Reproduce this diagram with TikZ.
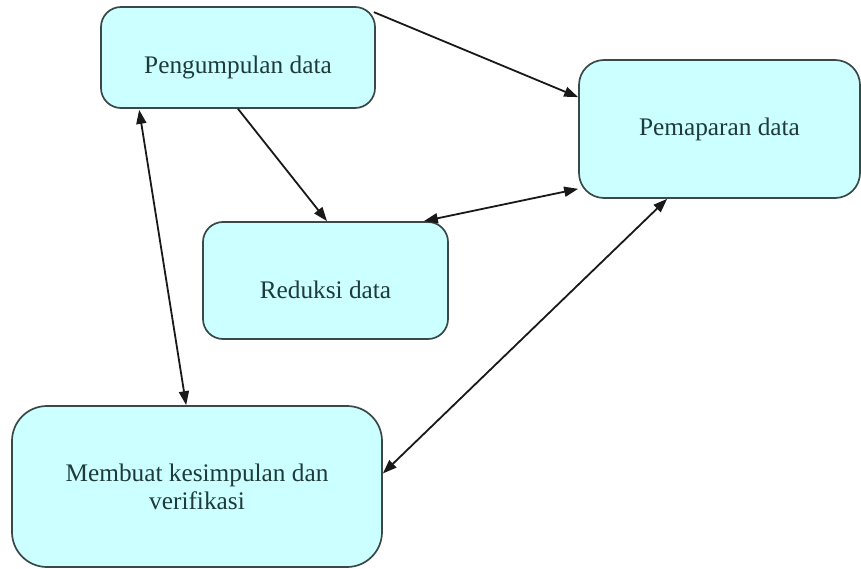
\documentclass[tikz,border=0pt]{standalone}
\usepackage{fontspec}
\setmainfont{Liberation Serif}
\usetikzlibrary{arrows.meta,calc}
\definecolor{boxfill}{HTML}{CCFFFF}
\definecolor{boxline}{HTML}{3A4848}
\definecolor{boxtext}{HTML}{1E3A3A}
\begin{document}
\begin{tikzpicture}[x=1pt,y=-1pt,
  stagebox/.style={draw=boxline,fill=boxfill,line width=1.7pt,text=boxtext,
    font=\fontsize{25.3}{28}\selectfont,align=center,inner sep=0pt},
  conn/.style={line width=1.8pt,draw=black!90,-{Triangle[length=14pt,width=10pt]}},
  biconn/.style={line width=1.8pt,draw=black!90,{Triangle[length=14pt,width=10pt]}-{Triangle[length=14pt,width=10pt]}}]
\useasboundingbox[fill=white] (0,0) rectangle (861,569);
\node[stagebox,minimum width=274pt,minimum height=101pt,rounded corners=20pt,text height=32pt,text depth=0pt] (pg) at (238,57.5) {Pengumpulan data};
\node[stagebox,minimum width=281pt,minimum height=138pt,rounded corners=25pt] (pm) at (719.5,129) {Pemaparan data};
\node[stagebox,minimum width=245pt,minimum height=117pt,rounded corners=20pt,text height=35pt,text depth=0pt] (rd) at (325.5,280.5) {Reduksi data};
\node[stagebox,minimum width=370pt,minimum height=161pt,rounded corners=35pt] (mk) at (197,486.5) {Membuat kesimpulan dan\\verifikasi};
\draw[conn] ($(pg.north east)+(-2,6)$) -- ($(pm.north west)+(0,38)$);
\draw[conn] (pg.south) -- ($(rd.north)+(1.5,0)$);
\draw[biconn] ($(rd.north east)+(-25,0)$) -- ($(pm.south west)+(0,-10)$);
\draw[biconn] ($(mk.east)+(0,-13)$) -- ($(pm.south west)+(89,0)$);
\draw[biconn] ($(pg.south west)+(39,1)$) -- ($(mk.north west)+(175,0)$);
\end{tikzpicture}
\end{document}
